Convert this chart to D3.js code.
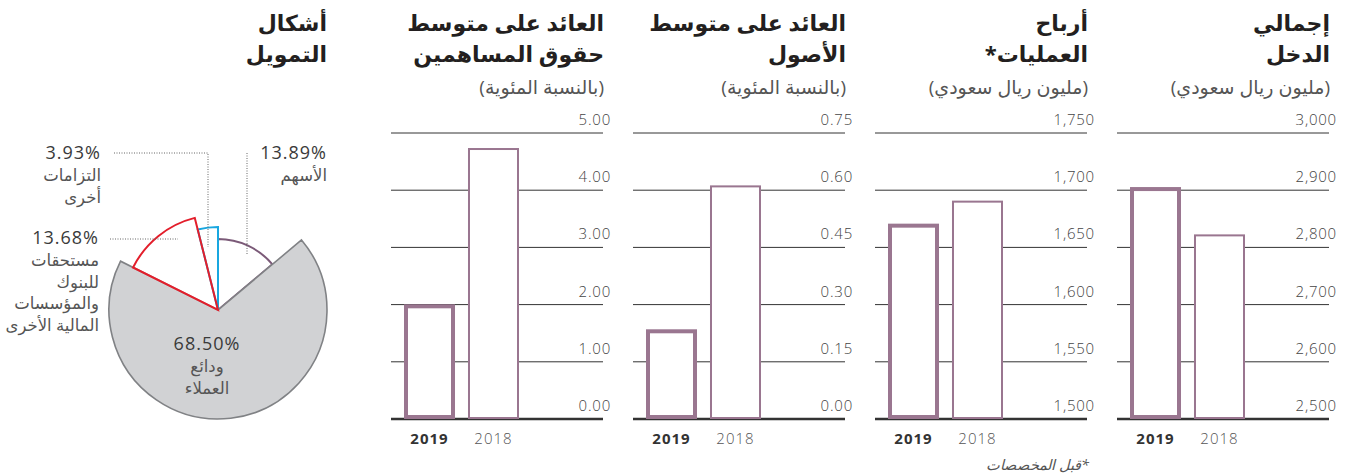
<!DOCTYPE html>
<html>
<head>
<meta charset="utf-8">
<script src="https://cdn.jsdelivr.net/npm/d3@7"></script>
<style>
  body { margin: 0; background: #fff; }
  text { font-family: "Open Sans", "DejaVu Sans", sans-serif; }
</style>
</head>
<body>
<script>
var width = 1357,
    height = 475;

// bar chart data (right to left, as on the page)
var years = ["2019", "2018"];
var totalIncome = [2902, 2821];
var operatingProfit = [1669, 1690];
var returnOnAssets = [0.23, 0.61];
var returnOnEquity = [1.97, 4.72];

var incomeTicks = [2500, 2600, 2700, 2800, 2900, 3000];
var profitTicks = [1500, 1550, 1600, 1650, 1700, 1750];
var roaTicks = [0, 0.15, 0.30, 0.45, 0.60, 0.75];
var roeTicks = [0, 1, 2, 3, 4, 5];

var panelTitles = [
    ["إجمالي", "الدخل"],
    ["أرباح", "العمليات*"],
    ["العائد على متوسط", "الأصول"],
    ["العائد على متوسط", "حقوق المساهمين"]
];
var panelUnits = ["(مليون ريال سعودي)", "(مليون ريال سعودي)", "(بالنسبة المئوية)", "(بالنسبة المئوية)"];

// funding pie data (clockwise from the top)
var fundingShares = [13.89, 68.50, 13.68, 3.93];
var fundingNames = [["الأسهم"], ["ودائع", "العملاء"], ["مستحقات", "للبنوك", "والمؤسسات", "المالية الأخرى"], ["التزامات", "أخرى"]];
var fundingTitle = ["أشكال", "التمويل"];
var footnote = "*قبل المخصصات";

var barColor = "#9a7690";
var rtl = function (s) { return "\u200F" + s + "\u200F"; };

var svg = d3.select("body").append("svg")
    .attr("width", width)
    .attr("height", height);

var panels = [
    {values: totalIncome, ticks: incomeTicks, fmt: d3.format(",")},
    {values: operatingProfit, ticks: profitTicks, fmt: d3.format(",")},
    {values: returnOnAssets, ticks: roaTicks, fmt: d3.format(".2f")},
    {values: returnOnEquity, ticks: roeTicks, fmt: d3.format(".2f")}
];

var plotTop = 133, plotBottom = 419, gridW = 212;

panels.forEach(function (p, i) {
    var right = 1329 - i * 242,
        left = right - gridW;
    var g = svg.append("g");

    var y = d3.scaleLinear()
        .domain([p.ticks[0], p.ticks[p.ticks.length - 1]])
        .range([plotBottom, plotTop]);
    var x = d3.scaleBand()
        .domain(years)
        .range([left + 13, left + 128])
        .paddingInner(0.203)
        .paddingOuter(0);

    // titles
    panelTitles[i].forEach(function (t, j) {
        g.append("text")
            .attr("x", right + 1)
            .attr("y", 31 + j * 31)
            .attr("text-anchor", "end")
            .style("font-size", "22px")
            .style("font-weight", "bold")
            .style("fill", "#231f20")
            .text(rtl(t));
    });
    g.append("text")
        .attr("x", right + 1)
        .attr("y", 94)
        .attr("text-anchor", "end")
        .style("font-size", "19px")
        .style("fill", "#555")
        .text(rtl(panelUnits[i]));

    // gridlines + tick labels
    g.selectAll(".grid").data(p.ticks).enter().append("line")
        .attr("x1", left).attr("x2", right)
        .attr("y1", function (d) { return y(d); })
        .attr("y2", function (d) { return y(d); })
        .style("stroke", "#333")
        .style("stroke-width", function (d, k) { return k === 0 ? 2.5 : 1; });
    g.selectAll(".tick").data(p.ticks).enter().append("text")
        .attr("x", right + 8)
        .attr("y", function (d) { return y(d) - 8; })
        .attr("text-anchor", "end")
        .style("font-size", "15px")
        .style("font-weight", 300)
        .style("letter-spacing", "0.8px")
        .style("fill", "#444")
        .text(function (d) { return p.fmt(d); });

    // bars
    g.selectAll("rect").data(p.values).enter().append("rect")
        .attr("x", function (d, k) { return x(years[k]) + (k === 0 ? 2 : 1); })
        .attr("width", function (d, k) { return x.bandwidth() - (k === 0 ? 4 : 2); })
        .attr("y", function (d) { return y(d); })
        .attr("height", function (d, k) { return plotBottom - y(d) - (k === 0 ? 2 : 1); })
        .style("fill", "#fff")
        .style("stroke", barColor)
        .style("stroke-width", function (d, k) { return k === 0 ? 4 : 2; });

    g.selectAll(".year").data(years).enter().append("text")
        .attr("x", function (d) { return x(d) + x.bandwidth() / 2; })
        .attr("y", 444)
        .attr("text-anchor", "middle")
        .style("font-size", "15px")
        .style("letter-spacing", "1px")
        .style("font-weight", function (d, k) { return k === 0 ? "bold" : 300; })
        .style("fill", function (d, k) { return k === 0 ? "#333" : "#555"; })
        .text(function (d) { return d; });

    if (i === 1) {
        g.append("text")
            .attr("x", right + 2)
            .attr("y", 470)
            .attr("text-anchor", "end")
            .style("font-size", "14.5px")
            .style("font-style", "italic")
            .style("fill", "#555")
            .text(rtl(footnote));
    }
});

// funding pie
var cx = 218, cy = 310;
var pie = d3.pie().sort(null).value(function (d) { return d; });
var arcs = pie(fundingShares);
var radii = [71, 109, 95, 83];
var strokes = ["#7b5a78", "#808285", "#e31e2b", "#19a7e0"];
var fills = ["none", "#d1d2d4", "none", "none"];

var pieG = svg.append("g").attr("transform", "translate(" + cx + "," + cy + ")");
[0, 1, 3, 2].forEach(function (k) {
    pieG.append("path")
        .attr("d", d3.arc().innerRadius(0).outerRadius(radii[k])(arcs[k]))
        .style("fill", fills[k])
        .style("stroke", strokes[k])
        .style("stroke-width", k === 1 ? 1.6 : 2)
        .style("stroke-linejoin", "miter");
});

fundingTitle.forEach(function (t, j) {
    svg.append("text")
        .attr("x", 327)
        .attr("y", 31 + j * 31)
        .attr("text-anchor", "end")
        .style("font-size", "22px")
        .style("font-weight", "bold")
        .style("fill", "#231f20")
        .text(rtl(t));
});

// leader lines
var dotted = function (pts) {
    svg.append("path")
        .attr("d", d3.line()(pts))
        .style("fill", "none")
        .style("stroke", "#666")
        .style("stroke-width", 1)
        .style("stroke-dasharray", "1,1.5");
};
dotted([[247, 153], [247, 255]]);
dotted([[114, 153], [208, 153], [208, 247]]);
dotted([[110, 239], [178, 239]]);

var labelPos = [
    {x: 327, y: 159, anchor: "end"},
    {x: 207, y: 350, anchor: "middle"},
    {x: 99, y: 244, anchor: "end"},
    {x: 101, y: 159, anchor: "end"}
];
fundingShares.forEach(function (v, k) {
    var lp = labelPos[k];
    svg.append("text")
        .attr("x", lp.x).attr("y", lp.y)
        .attr("text-anchor", lp.anchor)
        .style("font-size", "18px")
        .style("letter-spacing", "1px")
        .style("fill", "#3a3a3a")
        .text(d3.format(".2f")(v) + "%");
    fundingNames[k].forEach(function (n, j) {
        svg.append("text")
            .attr("x", lp.x).attr("y", lp.y + 22 + j * 21.5)
            .attr("text-anchor", lp.anchor)
            .style("font-size", "16.5px")
            .style("fill", "#555")
            .text(rtl(n));
    });
});
</script>
</body>
</html>
